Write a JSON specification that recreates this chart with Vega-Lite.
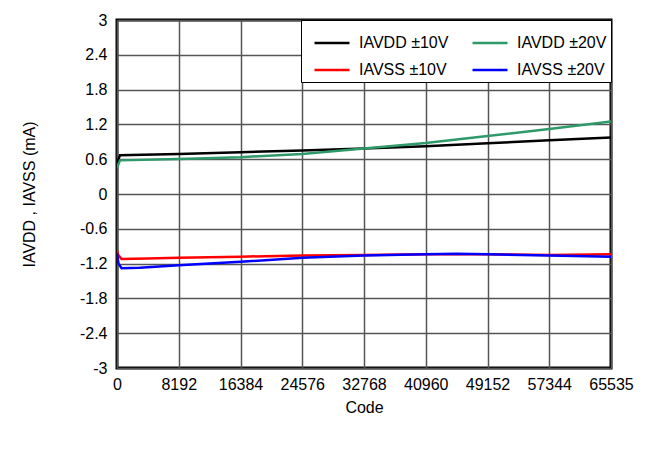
{
  "$schema": "https://vega.github.io/schema/vega-lite/v6.json",
  "width": 494,
  "height": 348,
  "autosize": "none",
  "padding": {"left": 117, "top": 20, "right": 56, "bottom": 86},
  "background": "white",
  "data": {
    "values": [
      {"code": 0, "v": 0.53, "s": "IAVDD ±10V"},
      {"code": 400, "v": 0.67, "s": "IAVDD ±10V"},
      {"code": 8192, "v": 0.69, "s": "IAVDD ±10V"},
      {"code": 16384, "v": 0.72, "s": "IAVDD ±10V"},
      {"code": 24576, "v": 0.75, "s": "IAVDD ±10V"},
      {"code": 32768, "v": 0.785, "s": "IAVDD ±10V"},
      {"code": 40960, "v": 0.825, "s": "IAVDD ±10V"},
      {"code": 49152, "v": 0.875, "s": "IAVDD ±10V"},
      {"code": 57344, "v": 0.925, "s": "IAVDD ±10V"},
      {"code": 65535, "v": 0.975, "s": "IAVDD ±10V"},

      {"code": 0, "v": 0.45, "s": "IAVDD ±20V"},
      {"code": 400, "v": 0.58, "s": "IAVDD ±20V"},
      {"code": 8192, "v": 0.605, "s": "IAVDD ±20V"},
      {"code": 16384, "v": 0.635, "s": "IAVDD ±20V"},
      {"code": 24576, "v": 0.69, "s": "IAVDD ±20V"},
      {"code": 32768, "v": 0.785, "s": "IAVDD ±20V"},
      {"code": 40960, "v": 0.88, "s": "IAVDD ±20V"},
      {"code": 49152, "v": 1.0, "s": "IAVDD ±20V"},
      {"code": 57344, "v": 1.12, "s": "IAVDD ±20V"},
      {"code": 65535, "v": 1.25, "s": "IAVDD ±20V"},

      {"code": 0, "v": -0.98, "s": "IAVSS ±10V"},
      {"code": 150, "v": -1.05, "s": "IAVSS ±10V"},
      {"code": 600, "v": -1.12, "s": "IAVSS ±10V"},
      {"code": 4000, "v": -1.11, "s": "IAVSS ±10V"},
      {"code": 8192, "v": -1.1, "s": "IAVSS ±10V"},
      {"code": 16384, "v": -1.08, "s": "IAVSS ±10V"},
      {"code": 24576, "v": -1.06, "s": "IAVSS ±10V"},
      {"code": 32768, "v": -1.05, "s": "IAVSS ±10V"},
      {"code": 40960, "v": -1.04, "s": "IAVSS ±10V"},
      {"code": 49152, "v": -1.04, "s": "IAVSS ±10V"},
      {"code": 57344, "v": -1.05, "s": "IAVSS ±10V"},
      {"code": 65535, "v": -1.04, "s": "IAVSS ±10V"},

      {"code": 0, "v": -1.02, "s": "IAVSS ±20V"},
      {"code": 200, "v": -1.2, "s": "IAVSS ±20V"},
      {"code": 600, "v": -1.28, "s": "IAVSS ±20V"},
      {"code": 3000, "v": -1.27, "s": "IAVSS ±20V"},
      {"code": 8192, "v": -1.23, "s": "IAVSS ±20V"},
      {"code": 16384, "v": -1.17, "s": "IAVSS ±20V"},
      {"code": 24576, "v": -1.1, "s": "IAVSS ±20V"},
      {"code": 32768, "v": -1.06, "s": "IAVSS ±20V"},
      {"code": 40960, "v": -1.04, "s": "IAVSS ±20V"},
      {"code": 45000, "v": -1.03, "s": "IAVSS ±20V"},
      {"code": 49152, "v": -1.04, "s": "IAVSS ±20V"},
      {"code": 57344, "v": -1.06, "s": "IAVSS ±20V"},
      {"code": 65535, "v": -1.08, "s": "IAVSS ±20V"}
    ]
  },
  "mark": {"type": "line", "strokeWidth": 2.5, "clip": true},
  "encoding": {
    "x": {
      "field": "code", "type": "quantitative",
      "scale": {"domain": [0, 65535], "nice": false, "zero": false},
      "axis": {
        "values": [0, 8192, 16384, 24576, 32768, 40960, 49152, 57344, 65535],
        "title": "Code", "format": "d", "labelOverlap": false, "labelBound": false, "labelFlush": false
      }
    },
    "y": {
      "field": "v", "type": "quantitative",
      "scale": {"domain": [-3, 3], "nice": false},
      "axis": {
        "values": [-3, -2.4, -1.8, -1.2, -0.6, 0, 0.6, 1.2, 1.8, 2.4, 3],
        "title": "IAVDD ,  IAVSS   (mA)", "format": "~g",
        "labelExpr": "replace(datum.label, '−', '-')",
        "labelOverlap": false, "labelFlush": false
      }
    },
    "color": {
      "field": "s", "type": "nominal",
      "scale": {
        "domain": ["IAVDD ±10V", "IAVSS ±10V", "IAVDD ±20V", "IAVSS ±20V"],
        "range": ["#000000", "#FF0000", "#2E9A6A", "#0000FF"]
      },
      "legend": {
        "title": null, "orient": "top-right", "columns": 2, "offset": 0,
        "symbolType": "stroke", "symbolSize": 1225, "symbolStrokeWidth": 2.5,
        "strokeColor": "#000000", "fillColor": "white", "padding": 4,
        "labelFontSize": 16, "labelFont": "Liberation Sans", "labelColor": "#000000",
        "columnPadding": 14, "rowPadding": -12, "symbolOffset": 8, "labelOffset": 8
      }
    }
  },
  "config": {
    "view": {"stroke": "#000000", "strokeWidth": 3},
    "axis": {
      "grid": true, "gridColor": "#555555", "gridWidth": 1.5, "gridOpacity": 1,
      "ticks": false, "domain": false,
      "labelFont": "Liberation Sans", "labelFontSize": 16, "labelColor": "#000000",
      "titleFont": "Liberation Sans", "titleFontSize": 16, "titleColor": "#000000", "titleFontWeight": "normal"
    },
    "axisX": {"labelPadding": 8, "titlePadding": 7},
    "axisY": {"labelPadding": 10, "titlePadding": 42}
  }
}
